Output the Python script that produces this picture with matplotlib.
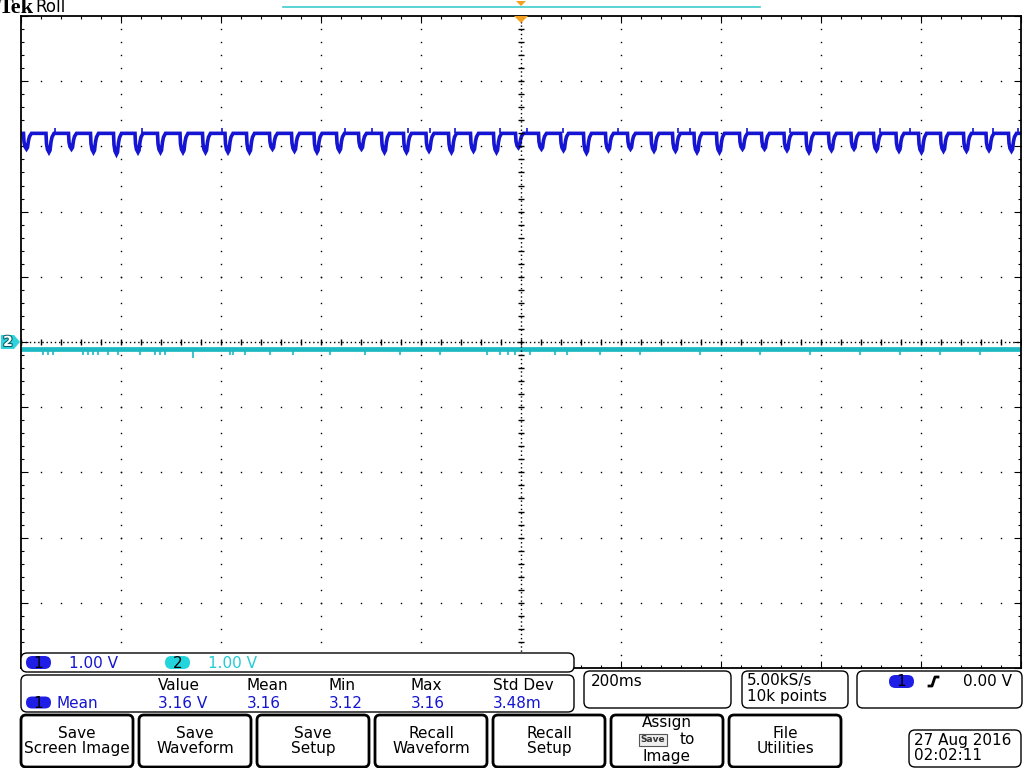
import numpy as np
import matplotlib
matplotlib.use("Agg")
import matplotlib.pyplot as plt
from matplotlib.patches import FancyBboxPatch, Polygon
import matplotlib.patheffects as pe

# ---- data (200 ms/div, 1.00 V/div) ----
# ch1: start time (s) of each dip, and the bottom of each dip (V)
dip_t = [-0.995, -0.950, -0.905, -0.861, -0.815, -0.772, -0.727, -0.682, -0.637,
         -0.592, -0.549, -0.503, -0.459, -0.414, -0.369, -0.325, -0.279, -0.235,
         -0.190, -0.145, -0.101, -0.055, -0.011, 0.035, 0.079, 0.125, 0.169,
         0.213, 0.260, 0.303, 0.346, 0.391, 0.437, 0.481, 0.526, 0.570, 0.615,
         0.660, 0.705, 0.750, 0.795, 0.839, 0.885, 0.930, 0.975]
dip_min = [2.96, 2.91, 2.96, 2.91, 2.88, 2.91, 2.91, 2.91, 2.91, 2.91, 2.91, 2.96,
           2.93, 2.91, 2.93, 2.96, 2.91, 2.91, 2.93, 2.91, 2.93, 2.91, 2.98, 2.96,
           2.94, 2.90, 2.94, 2.96, 2.93, 2.93, 2.91, 2.91, 2.96, 2.96, 2.94, 2.91,
           2.94, 2.96, 2.94, 2.93, 2.91, 2.93, 2.93, 2.94, 2.93]
ch1_top = 3.20
# shape of one dip: offset from its start (ms) and fraction of the depth
dip_dt_ms = [0, 1, 3, 6, 8, 10, 12, 16]
dip_frac = [0, 0.55, 0.85, 1.0, 0.9, 0.45, 0.2, 0]
# small upward noise spikes on ch1
ch1_spike_t = [-0.932, -0.758, -0.598, -0.352, -0.298, -0.226, -0.182, -0.132,
               -0.042, 0.012, 0.084, 0.194, 0.314, 0.338, 0.452, 0.538, 0.718,
               0.778, 0.904, 0.944, 0.994]
ch1_spike_v = 3.28

# ch2: flat level with short downward spikes
ch2_level = -0.11
ch2_spike_t = [-0.956, -0.946, -0.936, -0.876, -0.866, -0.856, -0.846, -0.826,
               -0.806, -0.762, -0.732, -0.722, -0.712, -0.656, -0.582, -0.576,
               -0.552, -0.502, -0.456, -0.382, -0.312, -0.242, -0.162, -0.068,
               -0.042, -0.026, -0.012, 0.018, 0.068, 0.092, 0.158, 0.238, 0.358,
               0.478, 0.578, 0.678, 0.758, 0.838, 0.918]
ch2_spike_v = [-0.20] * len(ch2_spike_t)
ch2_spike_v[13] = -0.24

# readouts
ch_scales = ["1.00 V", "1.00 V"]
meas_heads = ["Value", "Mean", "Min", "Max", "Std Dev"]
meas_vals = ["3.16 V", "3.16", "3.12", "3.16", "3.48m"]
meas_name = "Mean"
timebase = "200ms"
sample_rate = ["5.00kS/s", "10k points"]
trig_level = "0.00 V"
buttons = ["Save\nScreen Image", "Save\nWaveform", "Save\nSetup",
           "Recall\nWaveform", "Recall\nSetup", "Assign\n\nImage", "File\nUtilities"]
date_text = ["27 Aug 2016", "02:02:11"]

BLUE = "#1414d2"
BLUE_FILL = "#1e1ee6"
CYAN = "#1cb9c2"
CYAN_TXT = "#22ccd4"
ORANGE = "#f5a01e"
FONT = "DejaVu Sans"

fig = plt.figure(figsize=(10.24, 7.68), dpi=100)
fig.patch.set_facecolor("white")

# ---- graticule axes: x 21..1021 px, y 16..668 px ----
ax = fig.add_axes([21 / 1024, 1 - 668 / 768, 1000 / 1024, 652 / 768])
ax.set_xlim(-1, 1)
ax.set_ylim(-5, 5)
ax.set_facecolor("white")
for s in ax.spines.values():
    s.set_linewidth(1.3)
    s.set_color("black")
ax.set_xticks(np.arange(-1, 1.001, 0.2))
ax.set_xticks(np.arange(-1, 1.001, 0.04), minor=True)
ax.set_yticks(np.arange(-5, 5.001, 1))
ax.set_yticks(np.arange(-5, 5.001, 0.2), minor=True)
ax.tick_params(which="both", direction="in", top=True, right=True,
               labelbottom=False, labelleft=False, color="black", width=0.8)
ax.tick_params(which="major", length=5)
ax.tick_params(which="minor", length=2.5)

yy = np.arange(-5, 5.001, 0.2)
xx = np.arange(-1, 1.001, 0.04)
for xd in np.arange(-0.8, 0.801, 0.2):
    if abs(xd) > 1e-6:
        ax.plot(np.full_like(yy, xd), yy, ls="none", marker="s", ms=1.0,
                mew=0, color="black", zorder=1)
for yd in range(-4, 5):
    if yd != 0:
        ax.plot(xx, np.full_like(xx, yd), ls="none", marker="s", ms=1.0,
                mew=0, color="black", zorder=1)

# ch2 trace
ax.plot([-1, 1], [ch2_level, ch2_level], color=CYAN, lw=3.4, zorder=2,
        solid_capstyle="butt")
ax.vlines(ch2_spike_t, ch2_level, ch2_spike_v, color=CYAN, lw=1.2, zorder=2)

# ch1 trace
ts, vs = [-1.0], [ch1_top]
for t0, vmin in zip(dip_t, dip_min):
    for dt, f in zip(dip_dt_ms, dip_frac):
        ts.append(t0 + dt / 1000.0)
        vs.append(ch1_top - f * (ch1_top - vmin))
ts.append(1.0)
vs.append(ch1_top)
ax.plot(ts, vs, color=BLUE, lw=2.6, zorder=2, solid_joinstyle="miter")
ax.vlines(ch1_spike_t, ch1_top, ch1_spike_v, color=BLUE, lw=1.2, zorder=2)

# center crosshair
ax.axvline(0, color="black", lw=1.0, ls=(0, (1, 2)), zorder=3)
ax.axhline(0, color="black", lw=1.0, ls=(0, (1, 2)), zorder=3)
ax.plot(np.zeros_like(yy), yy, ls="none", marker="_", ms=4, mew=1,
        color="black", zorder=3)
ax.plot(xx, np.zeros_like(xx), ls="none", marker="|", ms=4, mew=1,
        color="black", zorder=3)

# ---- overlay in pixel coordinates ----
ui = fig.add_axes([0, 0, 1, 1], zorder=5)
ui.set_xlim(0, 1024)
ui.set_ylim(768, 0)
ui.axis("off")
ui.patch.set_alpha(0)


def box(x0, y0, x1, y1, lw=1.0, r=6):
    ui.add_patch(FancyBboxPatch((x0, y0), x1 - x0, y1 - y0,
                                boxstyle="round,pad=0,rounding_size=%d" % r,
                                fc="white", ec="black", lw=lw))


def oval(xc, yc, label, fill, w=25, h=13):
    ui.add_patch(FancyBboxPatch((xc - w / 2, yc - h / 2), w, h,
                                boxstyle="round,pad=0,rounding_size=%g" % (h / 2),
                                fc=fill, ec="none"))
    ui.text(xc, yc + 0.5, label, ha="center", va="center", fontsize=11,
            family=FONT, color="black")


def txt(x, y, s, color="black", ha="left", size=11):
    ui.text(x, y, s, ha=ha, va="center", fontsize=size, family=FONT,
            color=color, linespacing=1.05)


# header
ui.text(-1, 8, "Tek", ha="left", va="center", fontsize=16,
        family="Liberation Serif", weight="bold", color="black")
ui.text(35, 7, "Roll", ha="left", va="center", fontsize=12, family=FONT)
ui.plot([283, 760], [7, 7], color="#40cccc", lw=1.2)
ui.add_patch(Polygon([[516, 1], [526, 1], [521, 6]], closed=True,
                     fc=ORANGE, ec="none"))
ui.add_patch(Polygon([[514, 16], [528, 16], [521, 23]], closed=True,
                     fc=ORANGE, ec="none"))

# ch2 ground marker
ui.add_patch(Polygon([[1, 335], [14, 335], [20, 342], [14, 349], [1, 349]],
                     closed=True, fc="#2ed3db", ec="none"))
ui.text(8, 342, "2", ha="center", va="center", fontsize=10, weight="bold",
        family=FONT, color="white",
        path_effects=[pe.withStroke(linewidth=1.5, foreground="#0b5f66")])

# channel scale box
box(21, 653, 574, 672)
oval(38.5, 662.5, "1", BLUE_FILL)
txt(69, 663, ch_scales[0], BLUE)
oval(177.5, 662.5, "2", "#22d4dc")
txt(208, 663, ch_scales[1], CYAN_TXT)

# measurement box
box(21, 675, 574, 712)
oval(38.5, 702.5, "1", BLUE_FILL, h=12)
txt(57, 703, meas_name, BLUE)
for xh, h, v in zip([158, 247, 329, 411, 493], meas_heads, meas_vals):
    txt(xh, 685, h, "black")
    txt(xh, 703, v, BLUE)

# timebase / sample / trigger boxes
box(584, 671, 731, 708)
txt(591, 681, timebase)
box(742, 671, 848, 708)
txt(747, 681, sample_rate[0])
txt(747, 697, sample_rate[1])
box(857, 671, 1022, 708)
oval(901.5, 681.5, "1", BLUE_FILL)
ui.plot([929, 932, 935, 938], [686, 686, 677, 677], color="black", lw=2)
txt(963, 681, trig_level)

# soft buttons
for i, lab in enumerate(buttons):
    x0 = 21 + i * 118
    box(x0, 715, x0 + 112, 767, lw=2.0, r=5)
    cx = x0 + 56
    if lab.count("\n") == 2:
        txt(cx, 723, "Assign", ha="center")
        txt(cx + 20, 740, "to", ha="center")
        ui.text(cx - 14, 740, "Save", ha="center", va="center", fontsize=6.5,
                weight="bold", family=FONT, color="#333333",
                bbox=dict(boxstyle="square,pad=0.15", fc="#eeeeee",
                          ec="#555555", lw=0.8))
        txt(cx, 757, "Image", ha="center")
    else:
        txt(cx, 741, lab, ha="center")

# date box
box(909, 730, 1021, 767)
txt(914, 740, date_text[0])
txt(914, 756, date_text[1])

fig.savefig("out.png", dpi=100, facecolor="white")
